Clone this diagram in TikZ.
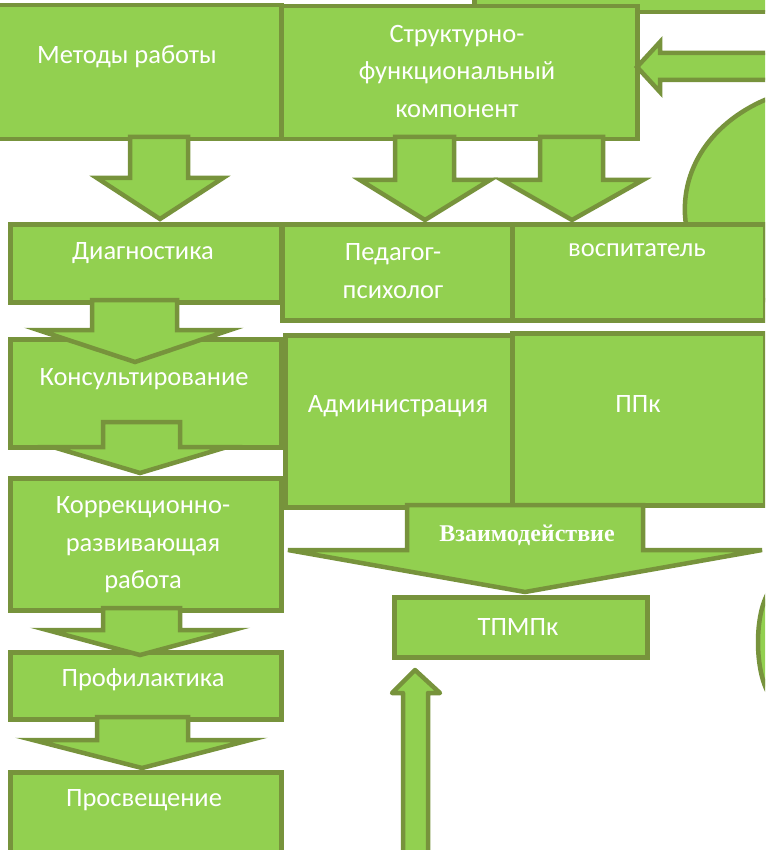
\documentclass[tikz,border=0pt]{standalone}
\usepackage{fontspec}
\setmainfont{Carlito}
\newfontfamily\serifbold{Liberation Serif}
\definecolor{gfill}{HTML}{92D050}
\definecolor{gline}{HTML}{77933C}
\begin{document}
\begin{tikzpicture}[x=1pt,y=-1pt,
  shp/.style={fill=gfill,draw=gline,line width=4.5pt,line join=miter},
  boxshape/.style={shp,rectangle,inner sep=0pt,anchor=north west},
  lbl/.style={text=white,font=\fontsize{26.5}{37.5}\selectfont,align=center,inner sep=0pt}]
\useasboundingbox (0,0) rectangle (765,850);
\begin{scope}
\clip (0,0) rectangle (765,850);
% background blobs
\draw[shp] (772,97) .. controls (712,120) and (678,170) .. (686,225) -- (686,300) -- (780,300) -- cycle;
\draw[shp] (770,590) .. controls (754,612) and (754,672) .. (770,696) -- cycle;
% top bar
\node[boxshape,minimum width=303pt,minimum height=20pt] (topbar) at (472,-10) {};
% boxes
\node[boxshape,minimum width=284pt,minimum height=134pt] (metody) at (-5,3) {};
\node[boxshape,minimum width=356pt,minimum height=133pt] (struct) at (279,4) {};
\node[boxshape,minimum width=271pt,minimum height=78pt] (diag) at (8,222) {};
\node[boxshape,minimum width=271pt,minimum height=108pt] (kons) at (8,337) {};
\node[boxshape,minimum width=271pt,minimum height=132pt] (korr) at (8,476) {};
\node[boxshape,minimum width=271pt,minimum height=67pt] (prof) at (8,650) {};
\node[boxshape,minimum width=271pt,minimum height=100pt] (prosv) at (8,770) {};
\node[boxshape,minimum width=230pt,minimum height=96pt] (ped) at (280,222) {};
\node[boxshape,minimum width=253pt,minimum height=96pt] (vosp) at (510,222) {};
\node[boxshape,minimum width=227pt,minimum height=172pt] (admin) at (283,333) {};
\node[boxshape,minimum width=253pt,minimum height=172pt] (ppk) at (510,331) {};
\node[boxshape,minimum width=253pt,minimum height=60pt] (tpmpk) at (392,595) {};
% block arrows
\draw[shp] (130,137) -- (188,137) -- (188,178) -- (223,178) -- (160,219) -- (97,178) -- (130,178) -- cycle;
\draw[shp] (92,300) -- (177,300) -- (177,330) -- (230,330) -- (135,362) -- (38,330) -- (92,330) -- cycle;
\draw[shp] (103,422) -- (180,422) -- (180,447) -- (227,447) -- (140,473) -- (53,447) -- (103,447) -- cycle;
\draw[shp] (103,608) -- (180,608) -- (180,630) -- (233,630) -- (140,655) -- (47,630) -- (103,630) -- cycle;
\draw[shp] (97,717) -- (188,717) -- (188,740) -- (250,740) -- (142,768) -- (33,740) -- (97,740) -- cycle;
\draw[shp] (395,137) -- (454,137) -- (454,180) -- (490,180) -- (425,220) -- (360,180) -- (395,180) -- cycle;
\draw[shp] (540,137) -- (603,137) -- (603,180) -- (643,180) -- (572,220) -- (502,180) -- (540,180) -- cycle;
\draw[shp] (407,505) -- (643,505) -- (643,550) -- (762,550) -- (525,592) -- (288,550) -- (407,550) -- cycle;
\draw[shp,line join=round] (403,870) -- (403,693) -- (392,693) -- (415,670) -- (440,693) -- (428,693) -- (428,870) -- cycle;
\draw[shp] (775,53) -- (660,53) -- (660,42) -- (637,67) -- (660,92) -- (660,80) -- (775,80) -- cycle;
\end{scope}
% labels
\node[lbl] (metodyT) at (127,57) {Методы работы};
\node[lbl] (structT) at (457,71) {Структурно-\\функциональный\\компонент};
\node[lbl] (diagT) at (143,253) {Диагностика};
\node[lbl] (konsT) at (144,379) {Консультирование};
\node[lbl] (korrT) at (143,545) {Коррекционно-\\развивающая\\работа};
\node[lbl] (profT) at (143,680) {Профилактика};
\node[lbl] (prosvT) at (144,800) {Просвещение};
\node[lbl] (pedT) at (393,271) {Педагог-\\психолог};
\node[lbl] (vospT) at (637,250) {воспитатель};
\node[lbl] (adminT) at (398,406) {Администрация};
\node[lbl] (ppkT) at (638,404) {ППк};
\node[lbl] (tpmpkT) at (518,627) {ТПМПк};
\node[text=white,inner sep=0pt,font=\serifbold\bfseries\fontsize{24}{28}\selectfont] (vzT) at (527,535) {Взаимодействие};
\end{tikzpicture}
\end{document}
